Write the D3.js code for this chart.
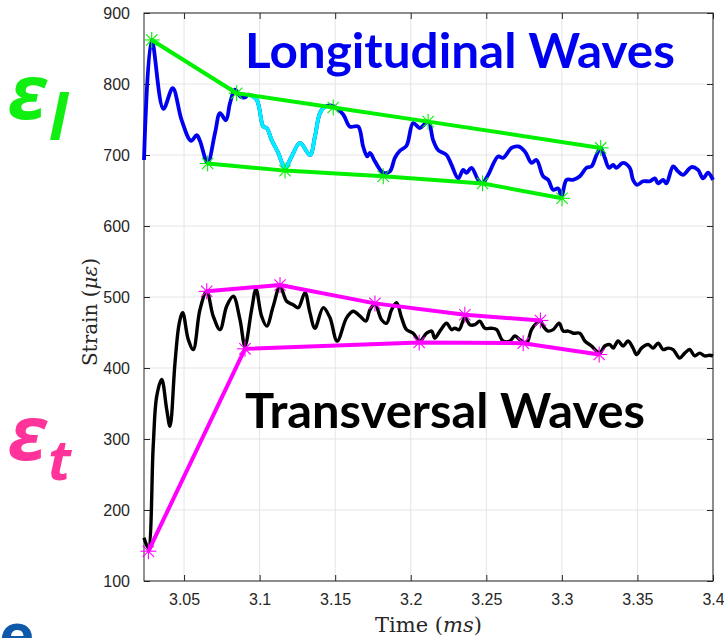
<!DOCTYPE html>
<html>
<head>
<meta charset="utf-8">
<script src="https://cdn.jsdelivr.net/npm/d3@7"></script>
<style>
  body { margin: 0; background: #fff; }
  svg { display: block; }
</style>
</head>
<body>
<script>
/* Strain records (time in ms, strain in microstrain) */
var longTime = [3.0235, 3.0286, 3.0363, 3.0425, 3.0484, 3.0546, 3.0584, 3.0605, 3.0656, 3.0705,
  3.0738, 3.0777, 3.0804, 3.0837, 3.0870, 3.0903, 3.0925, 3.0980, 3.1024, 3.1047,
  3.1080, 3.1123, 3.1168, 3.1212, 3.1267, 3.1333, 3.1366, 3.1399, 3.1432, 3.1487,
  3.1553, 3.1597, 3.1652, 3.1685, 3.1712, 3.1730, 3.1763, 3.1818, 3.1862, 3.1895,
  3.1928, 3.1972, 3.2016, 3.2060, 3.2115, 3.2148, 3.2181, 3.2237, 3.2270, 3.2314,
  3.2347, 3.2369, 3.2402, 3.2446, 3.2475, 3.2512, 3.2578, 3.2611, 3.2667, 3.2711,
  3.2755, 3.2799, 3.2832, 3.2876, 3.2909, 3.2942, 3.2975, 3.2998, 3.3031, 3.3074,
  3.3119, 3.3163, 3.3196, 3.3229, 3.3257, 3.3284, 3.3312, 3.3339, 3.3361, 3.3405,
  3.3449, 3.3471, 3.3498, 3.3537, 3.3582, 3.3615, 3.3637, 3.3670, 3.3692, 3.3736,
  3.3769, 3.3802, 3.3857, 3.3901, 3.3934, 3.3967, 3.4000];
var longStrain = [693, 862, 765, 794, 749, 720, 728, 720, 689, 731,
  759, 749, 773, 792, 783, 781, 785, 778, 740, 738,
  721, 703, 682, 698, 717, 700, 726, 759, 768, 769,
  757, 740, 740, 712, 698, 703, 691, 675, 677, 696,
  706, 713, 745, 738, 747, 721, 707, 700, 686, 667,
  679, 675, 682, 665, 660, 672, 698, 696, 710, 712,
  705, 689, 693, 670, 665, 651, 653, 642, 665, 665,
  670, 682, 684, 700, 710, 696, 682, 686, 682, 689,
  682, 665, 658, 663, 663, 667, 660, 665, 660, 684,
  677, 672, 683, 679, 667, 675, 665];
// highlighted stretch of the longitudinal record
var cyanStart = 3.0925, cyanEnd = 3.1432;

var transTime = [3.0235, 3.0263, 3.0296, 3.0319, 3.0352, 3.0385, 3.0407, 3.0440, 3.0468, 3.0491,
  3.0528, 3.0561, 3.0605, 3.0650, 3.0693, 3.0738, 3.0782, 3.0826, 3.0870, 3.0903,
  3.0947, 3.0976, 3.1013, 3.1047, 3.1090, 3.1135, 3.1179, 3.1222, 3.1256, 3.1300,
  3.1333, 3.1366, 3.1421, 3.1465, 3.1513, 3.1576, 3.1619, 3.1664, 3.1703, 3.1730,
  3.1763, 3.1807, 3.1840, 3.1873, 3.1906, 3.1939, 3.1972, 3.2016, 3.2060, 3.2105,
  3.2138, 3.2159, 3.2193, 3.2237, 3.2270, 3.2292, 3.2320, 3.2358, 3.2391, 3.2424,
  3.2457, 3.2490, 3.2535, 3.2568, 3.2611, 3.2656, 3.2689, 3.2722, 3.2766, 3.2799,
  3.2832, 3.2859, 3.2876, 3.2909, 3.2942, 3.2982, 3.3009, 3.3042, 3.3075, 3.3119,
  3.3152, 3.3196, 3.3229, 3.3251, 3.3284, 3.3317, 3.3339, 3.3372, 3.3405, 3.3438,
  3.3471, 3.3494, 3.3527, 3.3571, 3.3604, 3.3637, 3.3670, 3.3703, 3.3736, 3.3780,
  3.3813, 3.3846, 3.3879, 3.3912, 3.3945, 3.3978, 3.4000];
var transStrain = [161, 147, 290, 360, 384, 342, 318, 407, 463, 478,
  440, 426, 482, 508, 473, 454, 487, 501, 468, 431,
  482, 511, 473, 459, 487, 515, 494, 489, 485, 506,
  478, 456, 485, 471, 438, 471, 480, 473, 466, 482,
  490, 468, 463, 482, 492, 471, 454, 449, 438, 449,
  452, 442, 452, 463, 454, 456, 454, 471, 461, 461,
  466, 456, 456, 454, 438, 438, 445, 440, 435, 454,
  463, 466, 459, 452, 454, 463, 452, 452, 449, 449,
  438, 431, 424, 421, 431, 433, 428, 438, 431, 438,
  428, 419, 428, 433, 428, 435, 426, 428, 426, 414,
  421, 426, 417, 421, 417, 418, 417];

/* Peak envelopes */
var longUpperTime = [3.0286, 3.0848, 3.1487, 3.2115, 3.3257],
    longUpperStrain = [862, 787, 767, 747, 710];
var longLowerTime = [3.0656, 3.1168, 3.1818, 3.2475, 3.3001],
    longLowerStrain = [688, 678, 670, 660, 639];
var transUpperTime = [3.0650, 3.1135, 3.1763, 3.2358, 3.2858],
    transUpperStrain = [508, 517, 491, 475, 467];
var transLowerTime = [3.0264, 3.0903, 3.2056, 3.2744, 3.3247],
    transLowerStrain = [142, 427, 436, 435, 419];

/* Axes */
var xTicks = [3.05, 3.1, 3.15, 3.2, 3.25, 3.3, 3.35, 3.4],
    xTickLabels = ["3.05", "3.1", "3.15", "3.2", "3.25", "3.3", "3.35", "3.4"];
var yTicks = [100, 200, 300, 400, 500, 600, 700, 800, 900];

/* Display setup */
var W = 724, H = 638,
  margin = {top: 13, right: 11, bottom: 57, left: 144},
  plotW = W - margin.left - margin.right,
  plotH = H - margin.top - margin.bottom;

var svg = d3.select("body").append("svg")
  .attr("width", W)
  .attr("height", H);
svg.append("rect").attr("width", W).attr("height", H).style("fill", "white");

var x = d3.scaleLinear().domain([3.0235, 3.4]).range([0, plotW]),
    y = d3.scaleLinear().domain([100, 900]).range([plotH, 0]);

var g = svg.append("g").attr("transform", "translate(" + margin.left + "," + margin.top + ")");

// grid
g.append("g").selectAll("line").data(xTicks).enter().append("line")
  .attr("x1", function(d) { return x(d); }).attr("x2", function(d) { return x(d); })
  .attr("y1", 0).attr("y2", plotH)
  .style("stroke", "#e5e5e5").style("stroke-width", 1);
g.append("g").selectAll("line").data(yTicks).enter().append("line")
  .attr("x1", 0).attr("x2", plotW)
  .attr("y1", function(d) { return y(d); }).attr("y2", function(d) { return y(d); })
  .style("stroke", "#e5e5e5").style("stroke-width", 1);

// axes, ticks pointing inward on all four sides
var axisColor = "#262626";
function styleAxis(sel) {
  sel.select(".domain").remove();
  sel.selectAll(".tick line").style("stroke", axisColor);
  sel.selectAll(".tick text").style("fill", axisColor)
    .style("font-family", "'Liberation Sans', Arial, sans-serif").style("font-size", "16px");
}
g.append("g").attr("transform", "translate(0," + plotH + ")")
  .call(d3.axisBottom(x).tickValues(xTicks).tickSize(-6).tickPadding(13)
    .tickFormat(function(d, i) { return xTickLabels[i]; }))
  .call(styleAxis);
g.append("g")
  .call(d3.axisTop(x).tickValues(xTicks).tickSize(-6).tickFormat(""))
  .call(styleAxis);
g.append("g")
  .call(d3.axisLeft(y).tickValues(yTicks).tickSize(-6).tickPadding(14))
  .call(styleAxis);
g.append("g").attr("transform", "translate(" + plotW + ",0)")
  .call(d3.axisRight(y).tickValues(yTicks).tickSize(-6).tickFormat(""))
  .call(styleAxis);
g.append("rect").attr("width", plotW).attr("height", plotH)
  .style("fill", "none").style("stroke", axisColor).style("stroke-width", 1);

/* Curves */
var line = d3.line()
  .x(function(d) { return x(d[0]); })
  .y(function(d) { return y(d[1]); })
  .curve(d3.curveCatmullRom.alpha(0.5));
var straight = d3.line()
  .x(function(d) { return x(d[0]); })
  .y(function(d) { return y(d[1]); });

var longData = d3.zip(longTime, longStrain),
    transData = d3.zip(transTime, transStrain),
    cyanData = longData.filter(function(d) { return d[0] >= cyanStart && d[0] <= cyanEnd; });

g.append("path").datum(longData).attr("d", line)
  .style("fill", "none").style("stroke", "#0000f0").style("stroke-width", 3.8)
  .style("stroke-linejoin", "round");
g.append("path").datum(cyanData).attr("d", line)
  .style("fill", "none").style("stroke", "#00f0ff").style("stroke-width", 3.8)
  .style("stroke-linejoin", "round");
g.append("path").datum(transData).attr("d", line)
  .style("fill", "none").style("stroke", "#000").style("stroke-width", 3.4)
  .style("stroke-linejoin", "round");

// asterisk marker like matlab '*'
function asterisk(sel, color) {
  var r = 8, k = r * Math.SQRT1_2;
  var arms = [[-r, 0, r, 0], [0, -r, 0, r], [-k, -k, k, k], [-k, k, k, -k]];
  sel.each(function() {
    var m = d3.select(this);
    arms.forEach(function(a) {
      m.append("line").attr("x1", a[0]).attr("y1", a[1]).attr("x2", a[2]).attr("y2", a[3])
        .style("stroke", color).style("stroke-width", 1.1);
    });
  });
}

function envelope(times, strains, color) {
  var pts = d3.zip(times, strains);
  g.append("path").datum(pts).attr("d", straight)
    .style("fill", "none").style("stroke", color).style("stroke-width", 4)
    .style("stroke-linejoin", "round");
  g.append("g").selectAll("g").data(pts).enter().append("g")
    .attr("transform", function(d) { return "translate(" + x(d[0]) + "," + y(d[1]) + ")"; })
    .call(asterisk, color);
}
envelope(longUpperTime, longUpperStrain, "#00f000");
envelope(longLowerTime, longLowerStrain, "#00f000");
envelope(transUpperTime, transUpperStrain, "#ff00ff");
envelope(transLowerTime, transLowerStrain, "#ff00ff");

/* Axis titles */
svg.append("text")
  .attr("x", margin.left + plotW / 2).attr("y", 632)
  .attr("text-anchor", "middle")
  .style("font-family", "'DejaVu Serif', 'Liberation Serif', serif").style("font-size", "21px")
  .style("fill", axisColor)
  .html("Time (<tspan font-style='italic'>ms</tspan>)");
svg.append("text")
  .attr("transform", "translate(97,312) rotate(-90)")
  .attr("text-anchor", "middle")
  .style("font-family", "'DejaVu Serif', 'Liberation Serif', serif").style("font-size", "20px")
  .style("fill", axisColor)
  .html("Strain (<tspan font-style='italic'>με</tspan>)");

/* Annotations */
var labelFont = "Lato, 'Open Sans', sans-serif";
svg.append("text").attr("x", 245).attr("y", 68)
  .attr("textLength", 430).attr("lengthAdjust", "spacingAndGlyphs")
  .style("font-family", labelFont).style("font-weight", 700).style("font-size", "48px")
  .style("fill", "#0000f0")
  .text("Longitudinal Waves");
svg.append("text").attr("x", 245).attr("y", 428)
  .attr("textLength", 400).attr("lengthAdjust", "spacingAndGlyphs")
  .style("font-family", labelFont).style("font-weight", 700).style("font-size", "48px")
  .style("fill", "#000")
  .text("Transversal Waves");

var symFont = "'Open Sans', 'DejaVu Sans', sans-serif";
function strainSymbol(xPos, yPos, sub, subX, subY, subSize, color) {
  svg.append("text").attr("x", xPos).attr("y", yPos)
    .style("font-family", symFont).style("font-weight", 700).style("font-style", "italic")
    .style("font-size", "76px").style("fill", color)
    .text("ε");
  svg.append("text").attr("x", subX).attr("y", subY)
    .style("font-family", symFont).style("font-weight", 700).style("font-style", "italic")
    .style("font-size", subSize + "px").style("fill", color)
    .text(sub);
}
strainSymbol(8, 119, "l", 49, 140, 62, "#11ee11");
strainSymbol(8, 460, "t", 48, 480, 56, "#ff3399");

// cut-off glyph at the lower left corner
svg.append("text").attr("x", -1).attr("y", 657)
  .style("font-family", symFont).style("font-weight", 700)
  .style("font-size", "60px").style("fill", "#0f5aa8")
  .text("e");
</script>
</body>
</html>
